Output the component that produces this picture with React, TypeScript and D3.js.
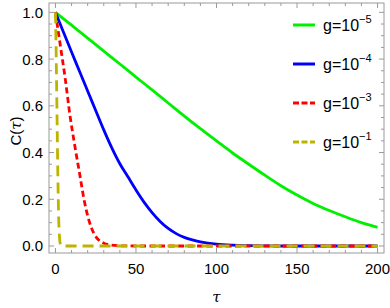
import React from 'react';
import * as d3 from 'd3';

// values
const greenTau = [0, 10, 20, 30, 40, 50, 60, 70, 80, 90, 100, 110, 120, 130, 140, 150, 160, 170, 180, 190, 200];
const greenC = [1, 0.945, 0.89, 0.834, 0.779, 0.723, 0.668, 0.612, 0.556, 0.502, 0.45, 0.398, 0.35, 0.303, 0.258, 0.218, 0.182, 0.152, 0.125, 0.1, 0.08];

const blueTau = [0, 5, 10, 15, 20, 25, 30, 35, 40, 45, 50, 55, 60, 65, 70, 75, 80, 85, 90, 100, 110, 120, 130, 140, 200];
const blueC = [1, 0.915, 0.83, 0.747, 0.663, 0.58, 0.497, 0.42, 0.352, 0.296, 0.24, 0.188, 0.143, 0.105, 0.075, 0.053, 0.037, 0.026, 0.018, 0.008, 0.0035, 0.0015, 0.0005, 0, 0];

const redTau = [0, 3, 6, 9, 12, 15, 18, 21, 24, 27, 30, 35, 40, 50, 100, 200];
const redC = [1, 0.86, 0.72, 0.56, 0.43, 0.31, 0.19, 0.105, 0.052, 0.025, 0.012, 0.004, 0.001, 0, 0, 0];

const yellowTau = [0, 0.5, 1, 1.5, 2, 2.5, 3, 4, 10, 50, 200];
const yellowC = [1, 0.8, 0.55, 0.3, 0.12, 0.04, 0.01, 0, 0, 0, 0];

const xTicks = [0, 50, 100, 150, 200];
const yTicks = [0, 0.2, 0.4, 0.6, 0.8, 1.0];
const legendExp = ['-5', '-4', '-3', '-1'];

const series = [
  { tau: greenTau, c: greenC, color: '#00f000', dash: null, legendDash: null },
  { tau: blueTau, c: blueC, color: '#0000ff', dash: null, legendDash: null },
  { tau: redTau, c: redC, color: '#ff0000', dash: '6,3.5', legendDash: '6,2.5' },
  { tau: yellowTau, c: yellowC, color: '#bdb400', dash: '11,6', legendDash: '6,2.5' },
];

const W = 390;
const H = 308;
const left = 49, right = 384, top = 3, bottom = 253;
const font = '"Liberation Sans", Arial, sans-serif';

export default function App() {
  const x = d3.scaleLinear().domain([-4, 204]).range([left, right]);
  const y = d3.scaleLinear().domain([-0.03, 1.04]).range([bottom, top]);

  const line = d3.line<[number, number]>()
    .x(d => x(d[0]))
    .y(d => y(d[1]))
    .curve(d3.curveMonotoneX);

  const xMinor = d3.range(0, 201, 10);
  const yMinor = d3.range(0, 1.0001, 0.05);
  const frame = '#9a9a9a';

  return (
    <svg width={W} height={H} style={{ position: 'absolute', left: 0, top: 0 }} fontFamily={font}>
      <rect x={0} y={0} width={W} height={H} fill="#fff" />
      <defs>
        <clipPath id="plot">
          <rect x={left} y={top} width={right - left} height={bottom - top} />
        </clipPath>
      </defs>

      {/* ticks, inward on all four sides */}
      <g stroke={frame} strokeWidth={1}>
        {xMinor.map(t => {
          const major = t % 50 === 0;
          const len = major ? 5 : 3;
          return (
            <g key={'xt' + t}>
              <line x1={x(t)} x2={x(t)} y1={bottom} y2={bottom - len} />
              <line x1={x(t)} x2={x(t)} y1={top} y2={top + len} />
            </g>
          );
        })}
        {yMinor.map((t, i) => {
          const major = i % 4 === 0;
          const len = major ? 5 : 3;
          return (
            <g key={'yt' + i}>
              <line x1={left} x2={left + len} y1={y(t)} y2={y(t)} />
              <line x1={right} x2={right - len} y1={y(t)} y2={y(t)} />
            </g>
          );
        })}
      </g>

      <rect x={left} y={top} width={right - left} height={bottom - top} fill="none" stroke={frame} strokeWidth={1} />

      <g clipPath="url(#plot)" fill="none">
        {series.map((s, i) => (
          <path
            key={i}
            d={line(s.tau.map((t, j) => [t, s.c[j]] as [number, number])) || ''}
            stroke={s.color}
            strokeWidth={2.8}
            strokeDasharray={s.dash || undefined}
          />
        ))}
      </g>

      {/* tick labels */}
      <g fontSize={15} fill="#000">
        {xTicks.map(t => (
          <text key={'xl' + t} x={x(t)} y={274} textAnchor="middle">{t}</text>
        ))}
        {yTicks.map(t => (
          <text key={'yl' + t} x={43} y={y(t) + 5.5} textAnchor="end">{t.toFixed(1)}</text>
        ))}
      </g>

      <text x={x(100)} y={302} fontSize={15} fontStyle="italic" textAnchor="middle" fontFamily='"DejaVu Serif", serif'>τ</text>
      <text transform={`translate(21,131) rotate(-90)`} fontSize={15} textAnchor="middle">
        C(<tspan fontStyle="italic" fontFamily='"DejaVu Serif", serif'>τ</tspan>)
      </text>

      {/* legend */}
      {series.map((s, i) => {
        const ly = 25 + i * 39;
        return (
          <g key={'lg' + i}>
            <line x1={293} x2={315} y1={ly} y2={ly} stroke={s.color} strokeWidth={3}
              strokeDasharray={s.legendDash || undefined} />
            <text x={323} y={ly + 6} fontSize={16} fill="#000">
              g=10<tspan dy={-8} fontSize={11}>{legendExp[i].replace('-', '\u2212')}</tspan>
            </text>
          </g>
        );
      })}
    </svg>
  );
}
